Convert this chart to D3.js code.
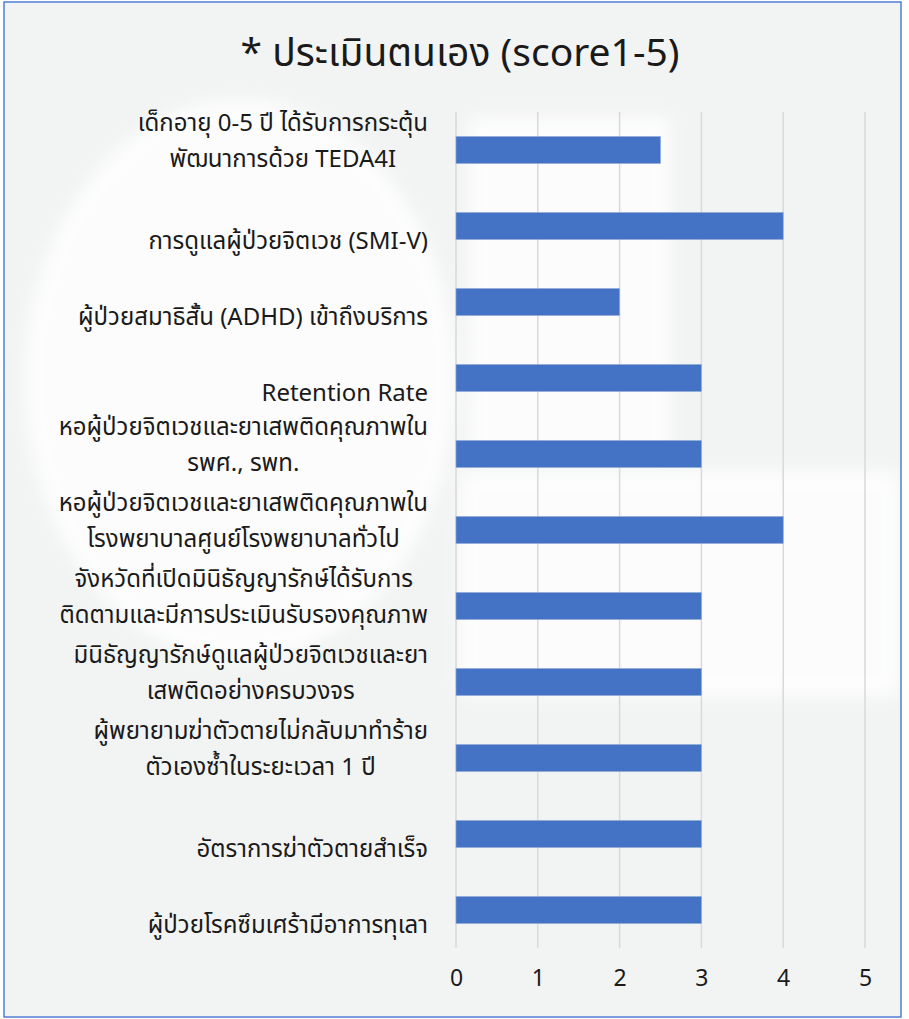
<!DOCTYPE html>
<html>
<head>
<meta charset="utf-8">
<script src="https://cdn.jsdelivr.net/npm/d3@7/dist/d3.min.js"></script>
<style>
  html, body { margin: 0; padding: 0; background: #ffffff; }
  svg { display: block; }
  text { font-family: "Noto Sans Thai", "Noto Sans Thai Looped", "Noto Sans", "Open Sans", sans-serif; fill: #1a1a1a; }
</style>
</head>
<body>
<svg id="chart" width="909" height="1019"></svg>
<script>
// Self-assessment scores (1-5) per indicator, listed top to bottom
const categories = [
  ["เด็กอายุ 0-5 ปี ได้รับการกระตุ้น", "พัฒนาการด้วย TEDA4I"],
  ["การดูแลผู้ป่วยจิตเวช (SMI-V)"],
  ["ผู้ป่วยสมาธิสั้น (ADHD) เข้าถึงบริการ"],
  ["Retention Rate"],
  ["หอผู้ป่วยจิตเวชและยาเสพติดคุณภาพใน", "รพศ., รพท."],
  ["หอผู้ป่วยจิตเวชและยาเสพติดคุณภาพใน", "โรงพยาบาลศูนย์โรงพยาบาลทั่วไป"],
  ["จังหวัดที่เปิดมินิธัญญารักษ์ได้รับการ", "ติดตามและมีการประเมินรับรองคุณภาพ"],
  ["มินิธัญญารักษ์ดูแลผู้ป่วยจิตเวชและยา", "เสพติดอย่างครบวงจร"],
  ["ผู้พยายามฆ่าตัวตายไม่กลับมาทำร้าย", "ตัวเองซ้ำในระยะเวลา 1 ปี"],
  ["อัตราการฆ่าตัวตายสำเร็จ"],
  ["ผู้ป่วยโรคซึมเศร้ามีอาการทุเลา"]
];
const scores = [2.5, 4, 2, 3, 3, 4, 3, 3, 3, 3, 3];
const xTicks = [0, 1, 2, 3, 4, 5];
const title = "* ประเมินตนเอง (score1-5)";

const svg = d3.select("#chart");
const W = 909, H = 1019;
const plot = { left: 456, right: 865, top: 112, bottom: 948 };
const labelRight = 428;

// Chart area background with a faint light watermark
svg.append("rect").attr("x", 0).attr("y", 0).attr("width", W).attr("height", H).attr("fill", "#ffffff");
svg.append("rect").attr("x", 4).attr("y", 2).attr("width", 897).attr("height", 1015).attr("fill", "#f2f4f3");

const defs = svg.append("defs");
defs.append("filter").attr("id", "soft").append("feGaussianBlur").attr("stdDeviation", 8);
const wm = svg.append("g").attr("filter", "url(#soft)").attr("fill", "#ffffff").attr("opacity", 0.8);
wm.append("ellipse").attr("cx", 240).attr("cy", 380).attr("rx", 215).attr("ry", 280);
wm.append("rect").attr("x", 460).attr("y", 472).attr("width", 440).attr("height", 224);
wm.append("rect").attr("x", 470).attr("y", 118).attr("width", 200).attr("height", 340);

// Outer frame
svg.append("rect").attr("x", 4).attr("y", 2).attr("width", 897).attr("height", 1015)
  .attr("fill", "none").attr("stroke", "#4f7fd4").attr("stroke-width", 1.5);

// Scales
const x = d3.scaleLinear().domain([0, 5]).range([plot.left, plot.right]);
const y = d3.scaleBand().domain(d3.range(categories.length))
  .range([plot.top, plot.bottom]).paddingInner(0.645).paddingOuter(0.3225);

// Vertical gridlines
svg.append("g").selectAll("line").data(xTicks).join("line")
  .attr("x1", d => x(d)).attr("x2", d => x(d))
  .attr("y1", plot.top).attr("y2", plot.bottom)
  .attr("stroke", "#d9d9d9").attr("stroke-width", 1.5);

// Bars
svg.append("g").selectAll("rect").data(scores).join("rect")
  .attr("x", x(0)).attr("y", (d, i) => y(i))
  .attr("width", d => x(d) - x(0)).attr("height", y.bandwidth())
  .attr("fill", "#4472c4").attr("stroke", "#8eaadb").attr("stroke-width", 0.6);

// X axis tick labels
const xAxis = d3.axisBottom(x).tickValues(xTicks).tickSize(0).tickPadding(0).tickFormat(d3.format("d"));
const gx = svg.append("g").attr("transform", `translate(0, ${plot.bottom + 22})`).call(xAxis);
gx.select(".domain").remove();
gx.selectAll("text").attr("font-size", 23).attr("fill", "#1a1a1a")
  .style("font-family", '"Noto Sans", "Open Sans", sans-serif');

// Category labels: block right-aligned beside the plot, lines centred within the block
const lineH = 36;
const labels = svg.append("g").attr("font-size", 24);
categories.forEach((lines, i) => {
  const cy = y(i) + y.bandwidth() / 2;
  if (lines.length === 1) {
    labels.append("text").attr("x", labelRight).attr("text-anchor", "end")
      .attr("y", cy + 15).attr("dy", "0.35em").text(lines[0]);
  } else {
    const t = labels.append("text").attr("text-anchor", "middle");
    const spans = lines.map((ln, k) => t.append("tspan")
      .attr("y", cy - 27 + k * lineH).attr("dy", "0.35em").text(ln));
    const maxW = d3.max(spans, s => s.node().getComputedTextLength());
    spans.forEach(s => s.attr("x", labelRight - maxW / 2));
  }
});

// Title
svg.append("text").attr("x", 460).attr("y", 52).attr("dy", "0.35em")
  .attr("text-anchor", "middle").attr("font-size", 39).text(title);
</script>
</body>
</html>
